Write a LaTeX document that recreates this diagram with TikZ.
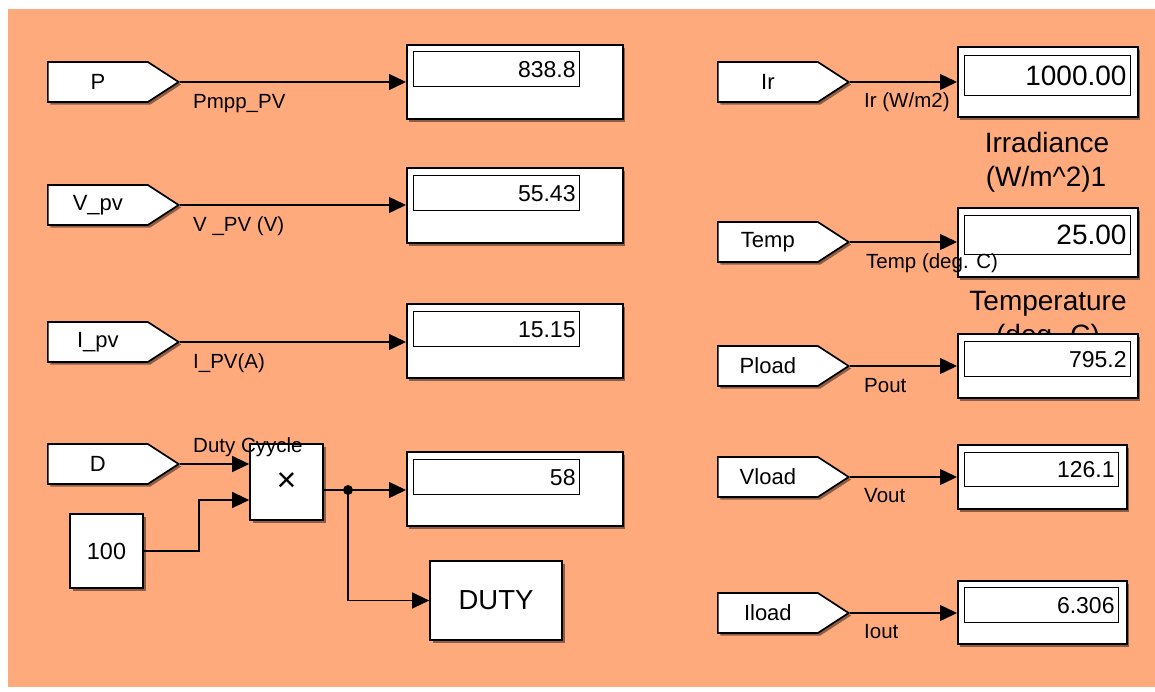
\documentclass[tikz,border=0pt]{standalone}
\usepackage{fontspec}
\setmainfont{Liberation Sans}
\usetikzlibrary{shapes.symbols,arrows.meta,shadows,calc}
\definecolor{bgorange}{RGB}{255,170,125}
\begin{document}
\begin{tikzpicture}[x=1pt,y=-1pt,
  shad/.style={drop shadow={shadow xshift=2.5pt,shadow yshift=-2.5pt,fill=black,opacity=0.45}},
  blk/.style={draw, fill=white, line width=1.7pt, shad},
  tagnode/.style={blk, shape=signal, signal to=east, signal pointer angle=66,
    text width=100pt, align=center, inner sep=0pt, minimum height=40pt,
    font=\fontsize{22}{26}\selectfont, anchor=west},
  disp/.style n args={2}{blk, rectangle, anchor=west, inner sep=0pt, minimum width=#1, minimum height=#2},
  field/.style n args={2}{draw, line width=1.1pt, fill=white, rectangle, anchor=north west,
    inner xsep=4pt, inner ysep=0pt, text width=#1-8pt, align=right, minimum height=#2},
  valS/.style={font=\fontsize{23}{26}\selectfont},
  valL/.style={font=\fontsize{28}{32}\selectfont},
  lbl/.style={inner sep=0pt, anchor=base west, font=\fontsize{20.5}{24}\selectfont},
  bname/.style={inner sep=0pt, anchor=base, font=\fontsize{28}{32}\selectfont},
  line/.style={line width=1.4pt},
  conn/.style={line, -{Triangle[length=17pt,width=16pt]}}
]
\useasboundingbox (0,0) rectangle (1155,691);
\fill[bgorange] (8,9) rectangle (1155,687);

% ---------- left column tags ----------
\node[tagnode] (P) at (47,82) {P};
\node[tagnode] (Vpv) at (47,205) {V\_pv};
\node[tagnode] (Ipv) at (47,342) {I\_pv};
\node[tagnode] (D) at (47,464) {D};

% ---------- left displays ----------
\node[disp={216pt}{74pt}] (dP) at (406,82) {};
\node[field={166pt}{35pt}, valS] (fP) at ($(dP.north west)+(7,7)$) {838.8};
\node[disp={216pt}{75pt}] (dV) at (406,205.5) {};
\node[field={166pt}{35pt}, valS] (fV) at ($(dV.north west)+(7,8)$) {55.43};
\node[disp={216pt}{74pt}] (dI) at (406,341) {};
\node[field={166pt}{35pt}, valS] (fI) at ($(dI.north west)+(7,8)$) {15.15};
\node[disp={216pt}{74pt}] (d58) at (406,489) {};
\node[field={166pt}{35pt}, valS] (f58) at ($(d58.north west)+(7,8)$) {58};

% ---------- product, constant, duty ----------
\node[blk, rectangle, minimum width=73pt, minimum height=76pt, inner sep=0pt,
  font=\fontsize{34}{34}\selectfont] (mul) at (286.5,482) {\texttimes};
\node[blk, rectangle, minimum width=73pt, minimum height=74pt, inner sep=0pt,
  font=\fontsize{23.4}{26}\selectfont] (c100) at (106.5,551) {100};
\node[blk, rectangle, minimum width=132pt, minimum height=79pt, inner sep=0pt,
  font=\fontsize{27.5}{30}\selectfont] (duty) at (496,600.5) {DUTY};

% ---------- right column tags ----------
\node[tagnode] (Ir) at (717,82) {Ir};
\node[tagnode] (Temp) at (717,242) {Temp};
\node[tagnode] (Pload) at (717,366) {Pload};
\node[tagnode] (Vload) at (717,477) {Vload};
\node[tagnode] (Iload) at (717,613) {Iload};

% ---------- right displays ----------
\node[disp={180pt}{70pt}] (dIr) at (957,82) {};
\node[field={166pt}{40pt}, valL] (fIr) at ($(dIr.north west)+(7,9)$) {1000.00};
\node[disp={180pt}{69pt}] (dT) at (957,242.5) {};
\node[field={166pt}{39pt}, valL] (fT) at ($(dT.north west)+(7,8)$) {25.00};

\node[bname] (irn1) at (1047,152) {Irradiance};
\node[bname] (irn2) at (1046,186) {(W/m\textasciicircum 2)1};
\node[bname] (tn1) at (1048,310) {Temperature};
\node[bname] (tn2) at (1048,344) {(deg. C)};

\node[disp={180pt}{64pt}] (dPl) at (957,366) {};
\node[field={166pt}{35pt}, valS] (fPl) at ($(dPl.north west)+(7,8)$) {795.2};
\node[disp={169pt}{64pt}] (dVl) at (957,477) {};
\node[field={154pt}{34pt}, valS] (fVl) at ($(dVl.north west)+(7,8)$) {126.1};
\node[disp={169pt}{63pt}] (dIl) at (957,612.5) {};
\node[field={154pt}{35pt}, valS] (fIl) at ($(dIl.north west)+(7,7)$) {6.306};

% ---------- connectors ----------
\draw[conn] (P.east) -- (P.east -| dP.west);
\draw[conn] (Vpv.east) -- (Vpv.east -| dV.west);
\draw[conn] (Ipv.east) -- (Ipv.east -| dI.west);
\draw[conn] (D.east) -- (D.east -| mul.west);
\draw[conn] (c100.east) -- ++(55,0) |- ($(mul.west)+(0,18)$);
\coordinate (j) at (348,490);
\draw[line] (mul.east |- j) -- (j);
\draw[conn] (j) -- (j -| d58.west);
\draw[conn] (j) |- (duty.west);
\fill (j) circle (5);

\draw[conn] (Ir.east) -- (Ir.east -| dIr.west);
\draw[conn] (Temp.east) -- (Temp.east -| dT.west);
\draw[conn] (Pload.east) -- (Pload.east -| dPl.west);
\draw[conn] (Vload.east) -- (Vload.east -| dVl.west);
\draw[conn] (Iload.east) -- (Iload.east -| dIl.west);

% ---------- signal labels ----------
\node[lbl] (lP) at (193,108) {Pmpp\_PV};
\node[lbl] (lV) at (193,231) {V \_PV (V)};
\node[lbl] (lI) at (193,368) {I\_PV(A)};
\node[lbl] (lD) at (193,452) {Duty Cyycle};
\node[lbl] (lIr) at (864,107) {Ir (W/m2)};
\node[lbl] (lT) at (866,268) {Temp (deg. C)};
\node[lbl] (lPl) at (864,392) {Pout};
\node[lbl] (lVl) at (864,502) {Vout};
\node[lbl] (lIl) at (864,638) {Iout};
\end{tikzpicture}
\end{document}
